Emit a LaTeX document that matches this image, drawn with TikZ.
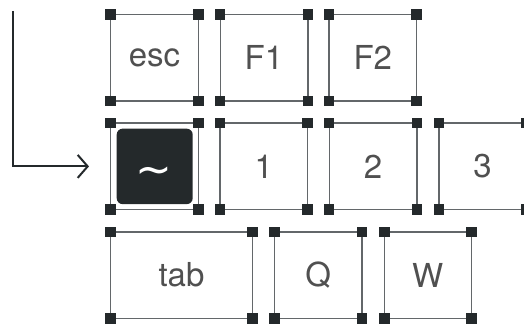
\documentclass[tikz,border=0pt]{standalone}
\usepackage{fontspec}
\setmainfont{TeX Gyre Heros}
\newfontfamily\tildefont{DejaVu Sans}
\usetikzlibrary{arrows.meta}
\definecolor{ink}{HTML}{24292B}
\definecolor{edge}{HTML}{63676A}
\definecolor{label}{HTML}{505050}
\tikzset{
  keybox/.style={draw=edge, line width=1.4pt, minimum height=86.5pt, minimum width=87.6pt,
    inner sep=0pt, outer sep=0pt, text=label, font=\fontsize{33}{40}\selectfont},
  widekey/.style={keybox, minimum width=141.6pt},
  cornersq/.style={fill=ink},
  flow/.style={draw=ink, line width=2pt, -{Straight Barb[length=10pt,width=23pt,line width=2pt]}},
  darkcap/.style={fill=ink, rounded corners=6pt}
}
\begin{document}
\begin{tikzpicture}[x=1pt,y=1pt]
\useasboundingbox (0,0) rectangle (524,324);
\clip (0,0) rectangle (524,324);
% row 1
\node[keybox] (kesc) at (154.5,266.3) {esc};
\node[keybox] (kfa) at (264.0,266.3) {F1};
\node[keybox] (kfb) at (372.8,266.3) {F2};
% row 2
\node[keybox] (ktilde) at (154.5,157.6) {};
\node[keybox] (kone) at (263.7,157.6) {1};
\node[keybox] (ktwo) at (373.0,157.6) {2};
\node[keybox] (kthree) at (482.6,157.6) {3};
% row 3
\node[widekey] (ktab) at (181.5,48.8) {tab};
\node[keybox] (kq) at (318.2,48.8) {Q};
\node[keybox, minimum width=87pt] (kw) at (427.8,48.8) {W};
% pressed key cap
\fill[darkcap] ([shift={(6pt,-5.5pt)}]ktilde.north west) rectangle ([shift={(-5.6pt,5.5pt)}]ktilde.south east);
\node[text=white, font=\tildefont\fontsize{44}{48}\selectfont, inner sep=0pt, anchor=base] (tildelabel) at (153.5,139) {\char"7E};
% corner squares
\foreach \k in {kesc,kfa,kfb,ktilde,kone,ktwo,kthree,ktab,kq,kw}{
  \foreach \a in {north west,north east,south west,south east}{
    \fill[cornersq] ([shift={(-5.25pt,-5.25pt)}]\k.\a) rectangle ++(10.5pt,10.5pt);
  }
}
% pointer arrow
\coordinate (start) at (13.3,313);
\draw[flow, shorten >=21.7pt] (start) |- (ktilde.west);
\end{tikzpicture}
\end{document}
